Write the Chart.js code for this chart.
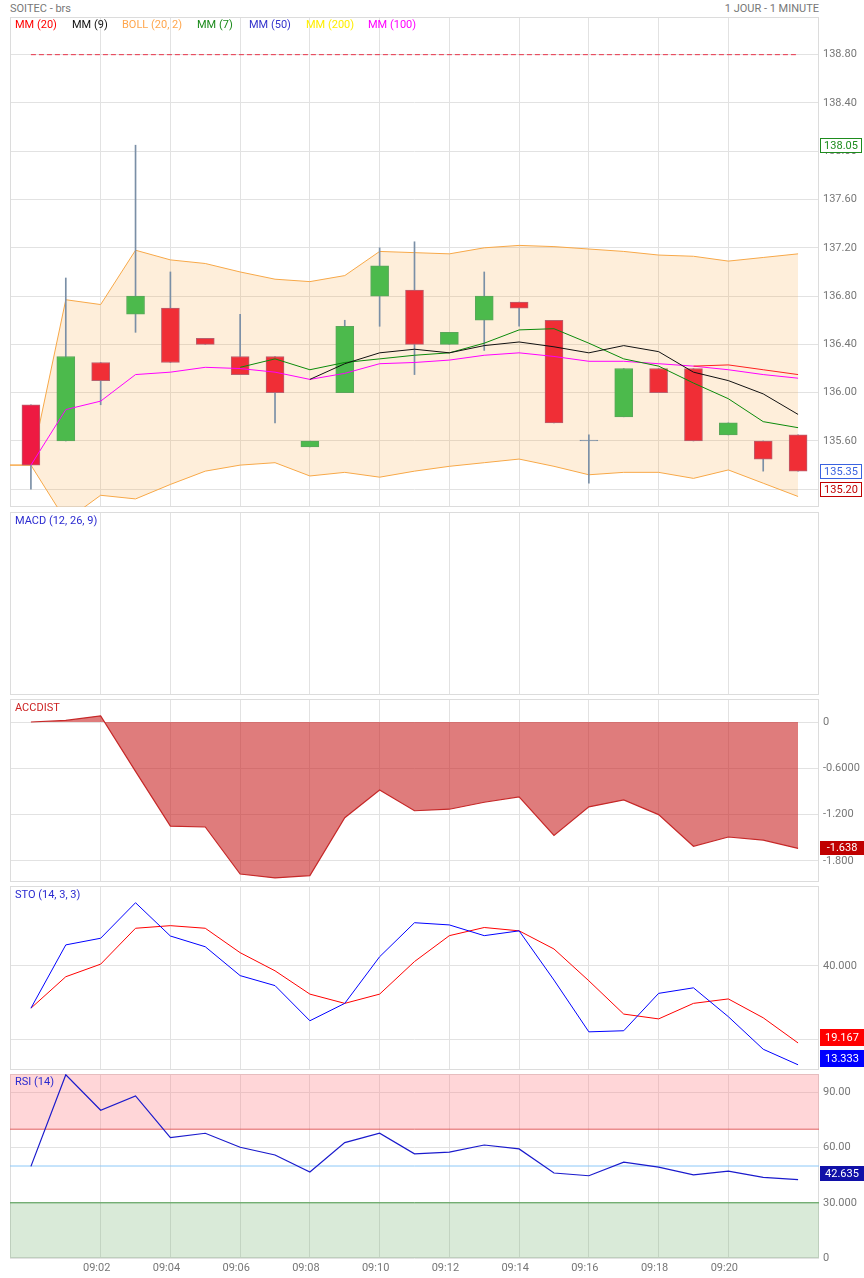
<!DOCTYPE html>
<html>
<head>
<meta charset="utf-8">
<script src="https://cdn.jsdelivr.net/npm/chart.js@4.4.1/dist/chart.umd.min.js"></script>
<style>
body{margin:0;background:#fff;width:864px;height:1278px;position:relative;overflow:hidden;font-family:Roboto,sans-serif}
canvas{position:absolute;left:0}
.t{position:absolute;font-size:11px;line-height:14px;white-space:nowrap}
</style>
</head>
<body>
<div class="t" style="left:10px;top:2px;color:#777">SOITEC - brs</div>
<div class="t" style="right:45px;top:2px;color:#777">1 JOUR - 1 MINUTE</div>

<canvas id="priceChart" width="864" height="518" style="top:3px"></canvas>
<canvas id="macdChart" width="864" height="211" style="top:498px"></canvas>
<canvas id="accChart" width="864" height="211" style="top:685px"></canvas>
<canvas id="stoChart" width="864" height="212" style="top:872px"></canvas>
<canvas id="rsiChart" width="864" height="218" style="top:1060px"></canvas>

<div class="t" style="left:15px;top:18px;color:#ff0000">MM (20)</div>
<div class="t" style="left:72px;top:18px;color:#111">MM (9)</div>
<div class="t" style="left:122px;top:18px;color:#ffa64d">BOLL (20, 2)</div>
<div class="t" style="left:197px;top:18px;color:#1a8a1a">MM (7)</div>
<div class="t" style="left:249px;top:18px;color:#3333cc">MM (50)</div>
<div class="t" style="left:306px;top:18px;color:#ffee00">MM (200)</div>
<div class="t" style="left:368px;top:18px;color:#ff00ff">MM (100)</div>

<div class="t" style="left:15px;top:514px;color:#2a2ad0">MACD (12, 26, 9)</div>
<div class="t" style="left:15px;top:701px;color:#cc2222">ACCDIST</div>
<div class="t" style="left:15px;top:888px;color:#2a2ad0">STO (14, 3, 3)</div>
<div class="t" style="left:15px;top:1075px;color:#2a2ad0">RSI (14)</div>

<script>
Chart.defaults.font.family="Roboto"
Chart.defaults.animation=false

// data
let times=["09:00","09:01","09:02","09:03","09:04","09:05","09:06","09:07","09:08","09:09","09:10","09:11","09:12","09:13","09:14","09:15","09:16","09:17","09:18","09:19","09:20","09:21","09:22"]
let xTicks=[2,4,6,8,10,12,14,16,18,20]

let openP =[135.90,135.60,136.25,136.65,136.70,136.45,136.30,136.30,135.55,136.00,136.80,136.85,136.40,136.60,136.75,136.60,135.60,135.80,136.20,136.20,135.65,135.60,135.65]
let closeP=[135.40,136.30,136.10,136.80,136.25,136.40,136.15,136.00,135.60,136.55,137.05,136.40,136.50,136.80,136.70,135.75,135.60,136.20,136.00,135.60,135.75,135.45,135.35]
let highP =[135.90,136.95,136.25,138.05,137.00,136.45,136.65,136.30,135.60,136.60,137.20,137.25,136.50,137.00,136.75,136.60,135.65,136.20,136.20,136.20,135.75,135.60,135.65]
let lowP  =[135.20,135.60,135.90,136.50,136.25,136.40,136.15,135.75,135.55,136.00,136.55,136.15,136.40,136.35,136.55,135.75,135.25,135.80,136.00,135.60,135.65,135.35,135.35]

let mm20 =[null,null,null,null,null,null,null,null,null,null,null,null,null,null,null,null,null,null,null,136.22,136.23,136.19,136.15]
let mm9  =[null,null,null,null,null,null,null,null,136.11,136.24,136.33,136.36,136.33,136.39,136.42,136.38,136.33,136.39,136.34,136.17,136.10,135.99,135.82]
let mm7  =[null,null,null,null,null,null,136.21,136.28,136.19,136.25,136.28,136.31,136.33,136.41,136.52,136.53,136.41,136.28,136.22,136.08,135.95,135.76,135.71]
let mm100=[135.40,135.86,135.93,136.15,136.17,136.21,136.20,136.17,136.11,136.16,136.24,136.25,136.27,136.31,136.33,136.30,136.26,136.26,136.24,136.22,136.19,136.15,136.12]

// bollinger starts one minute before the first candle
let bollUpper=[135.40,135.40,136.77,136.73,137.18,137.10,137.07,137.00,136.94,136.92,136.97,137.17,137.16,137.15,137.20,137.22,137.21,137.19,137.17,137.14,137.13,137.09,137.12,137.15]
let bollLower=[135.40,135.40,134.94,135.15,135.12,135.24,135.35,135.40,135.42,135.31,135.34,135.30,135.35,135.39,135.42,135.45,135.39,135.32,135.34,135.34,135.29,135.36,135.25,135.14]

let alertLevel=138.80
let priceTicks=[135.2,135.6,136.0,136.4,136.8,137.2,137.6,138.0,138.4,138.8]

let accdist=[0,0.02,0.08,-0.64,-1.35,-1.36,-1.97,-2.02,-1.99,-1.24,-0.88,-1.15,-1.13,-1.04,-0.97,-1.47,-1.10,-1.01,-1.20,-1.61,-1.49,-1.53,-1.638]
let accTicks=[0,-0.6,-1.2,-1.8]
let accLabels=["0","-0.6000","-1.200","-1.800"]

let stoK=[28.6,45.7,47.5,57.1,48.1,45.2,37.4,34.7,25.2,29.9,42.5,51.7,51.1,48.2,49.5,36.2,22.2,22.5,32.6,34.1,26.3,17.5,13.3]
let stoD=[28.6,37.1,40.5,50.2,50.9,50.2,43.6,38.7,32.4,29.9,32.4,41.2,48.2,50.4,49.5,44.6,36.0,27.0,25.7,29.9,31.1,26.0,19.2]
let stoTicks=[20,40]
let stoLabels=["20.000","40.000"]

let rsi=[49.8,99.6,80.3,88.1,65.4,67.8,60.2,56.0,46.7,62.7,67.8,56.6,57.5,61.4,59.3,46.2,44.7,52.1,49.4,45.2,47.2,43.8,42.6]
let rsiTicks=[0,30,60,90]
let rsiLabels=["0","30.000","60.00","90.00"]
let rsiHigh=70, rsiMid=50, rsiLow=30


let xMin=-0.6, xMax=22.6
let gridCol="#e2e2e2"

function pts(arr,start){
return arr.map((v,i)=>({x:i+(start||0),y:v}))
}
function flat(v){
return [{x:xMin,y:v},{x:xMax,y:v}]
}

function xScale(showLabels){
let s={
type:"linear",min:xMin,max:xMax,offset:false,
afterBuildTicks:sc=>{sc.ticks=xTicks.map(v=>({value:v}))},
grid:{color:gridCol,drawTicks:false,offset:false},
border:{display:false},
ticks:{display:showLabels,color:"#777",font:{size:11},padding:4,labelOffset:-4,maxRotation:0,autoSkip:false,
callback:v=>times[v]}
}
if(showLabels) s.afterFit=sc=>{sc.height=20}
return s
}

function yScale(min,max,ticks,labels){
return {
position:"right",min:min,max:max,beginAtZero:false,
afterBuildTicks:sc=>{sc.ticks=ticks.map(v=>({value:v}))},
afterFit:sc=>{sc.width=45},
grid:{color:gridCol,drawTicks:false},
border:{display:false},
ticks:{color:"#777",font:{size:11},padding:4,callback:(v,i)=>labels[i]}
}
}

let panelFrame={
id:"panelFrame",
beforeDatasetsDraw(chart){
let a=chart.chartArea, ctx=chart.ctx
ctx.save()
ctx.strokeStyle="#dcdcdc"
ctx.lineWidth=1
ctx.strokeRect(Math.round(a.left)+0.5,Math.round(a.top)+0.5,Math.round(a.right-a.left)-1,Math.round(a.bottom-a.top)-1)
ctx.restore()
}
}

let valueBoxes={
id:"valueBoxes",
afterDraw(chart,args,opts){
let boxes=opts.boxes||[]
if(!boxes.length) return
let ctx=chart.ctx, a=chart.chartArea, y=chart.scales.y
let h=opts.h||15, gap=opts.gap||3
let items=boxes.map(b=>{
let c=y.getPixelForValue(b.value)+(b.dy||0)
c=Math.min(c,a.bottom-h/2-(opts.bottomPad||0))
c=Math.max(c,a.top+h/2)
return Object.assign({},b,{c:c})
})
items.sort((p,q)=>q.c-p.c)
for(let i=1;i<items.length;i++){
if(items[i-1].c-items[i].c<h+gap) items[i].c=items[i-1].c-h-gap
}
ctx.save()
ctx.font="11px Roboto"
ctx.textAlign="center"
ctx.textBaseline="middle"
items.forEach(b=>{
let top=Math.round(b.c-h/2)
if(b.bg){
ctx.fillStyle=b.bg
ctx.fillRect(820,top,44,h)
ctx.fillStyle="#fff"
ctx.fillText(b.text,842,top+h/2+0.5)
}else{
ctx.fillStyle="#fff"
ctx.fillRect(820,top,42,h)
ctx.strokeStyle=b.border
ctx.lineWidth=1
ctx.strokeRect(820.5,top+0.5,41,h-1)
ctx.fillStyle=b.border
ctx.fillText(b.text,841,top+h/2+0.5)
}
})
ctx.restore()
}
}

function lineDs(data,color,extra){
return Object.assign({type:"line",data:data,borderColor:color,borderWidth:1,pointRadius:0,tension:0,fill:false,order:0},extra||{})
}


/* price panel */

let bodyColors=openP.map((o,i)=>closeP[i]>o?"#4cba4c":(closeP[i]<o?(i===0?"#ee1a42":"#f02e36"):"#7a8fa6"))
let bodyBorders=openP.map((o,i)=>closeP[i]>o?"#5aa65a":(closeP[i]<o?"#b8606e":"#7a8fa6"))

new Chart(document.getElementById("priceChart"),{
type:"bar",
data:{
datasets:[
lineDs(pts(mm20),"#ff2020"),
lineDs(pts(mm9),"#111111"),
lineDs(pts(mm7),"#0a8a0a"),
lineDs(pts(mm100),"#ff00ff"),
lineDs([{x:0,y:alertLevel},{x:times.length-1,y:alertLevel}],"#e8344a",{borderDash:[5,3]}),
{
type:"bar",
data:times.map((t,i)=>({x:i,y:[openP[i],closeP[i]]})),
backgroundColor:bodyColors,
borderColor:bodyBorders,
borderWidth:1,
borderSkipped:false,
barThickness:18,
minBarLength:1,
grouped:false,
order:1
},
{
type:"bar",
data:times.map((t,i)=>({x:i,y:[lowP[i],highP[i]]})),
backgroundColor:"#7a8fa6",
borderWidth:0,
barThickness:1,
grouped:false,
order:2
},
lineDs(pts(bollUpper,-1),"#f7a848",{fill:"+1",backgroundColor:"rgba(250,170,70,0.2)",order:3}),
lineDs(pts(bollLower,-1),"#f7a848",{order:3})
]
},
options:{
responsive:false,
layout:{padding:{left:10,right:0,top:14,bottom:14}},
plugins:{
legend:{display:false},
tooltip:{enabled:false},
valueBoxes:{h:15,gap:3,boxes:[
{value:138.05,text:"138.05",border:"#1e8c1e"},
{value:135.35,text:"135.35",border:"#3a62e0"},
{value:135.20,text:"135.20",border:"#c00000"}
]}
},
scales:{
x:xScale(false),
y:yScale(135.053,139.112,priceTicks,priceTicks.map(v=>v.toFixed(2)))
}
},
plugins:[panelFrame,valueBoxes]
})


/* macd panel (empty) */

new Chart(document.getElementById("macdChart"),{
type:"line",
data:{datasets:[]},
options:{
responsive:false,
layout:{padding:{left:10,right:0,top:14,bottom:14}},
plugins:{legend:{display:false},tooltip:{enabled:false}},
scales:{
x:xScale(false),
y:yScale(0,1,[],[])
}
},
plugins:[panelFrame]
})


/* accdist panel */

new Chart(document.getElementById("accChart"),{
type:"line",
data:{datasets:[
lineDs(pts(accdist),"#c62828",{fill:"origin",backgroundColor:"rgba(200,30,30,0.58)",borderWidth:1.2})
]},
options:{
responsive:false,
layout:{padding:{left:10,right:0,top:14,bottom:14}},
plugins:{
legend:{display:false},
tooltip:{enabled:false},
valueBoxes:{h:14,boxes:[{value:accdist[accdist.length-1],text:"-1.638",bg:"#c00000"}]}
},
scales:{
x:xScale(false),
y:yScale(-2.073,0.298,accTicks,accLabels)
}
},
plugins:[panelFrame,valueBoxes]
})


/* stochastic panel */

new Chart(document.getElementById("stoChart"),{
type:"line",
data:{datasets:[
lineDs(pts(stoK),"#0000ff",{order:0}),
lineDs(pts(stoD),"#ff0000",{order:1})
]},
options:{
responsive:false,
layout:{padding:{left:10,right:0,top:14,bottom:14}},
plugins:{
legend:{display:false},
tooltip:{enabled:false},
valueBoxes:{h:17,gap:4,bottomPad:3.5,boxes:[
{value:19.167,text:"19.167",bg:"#ff0000"},
{value:13.333,text:"13.333",bg:"#0000ff"}
]}
},
scales:{
x:xScale(false),
y:yScale(11.89,61.62,stoTicks,stoLabels)
}
},
plugins:[panelFrame,valueBoxes]
})


/* rsi panel */

new Chart(document.getElementById("rsiChart"),{
type:"line",
data:{datasets:[
lineDs(pts(rsi),"#1a1acc",{borderWidth:1.2,order:0}),
lineDs(flat(rsiHigh),"#e06060",{fill:{value:100},backgroundColor:"rgba(255,120,125,0.3)",order:2}),
lineDs(flat(rsiMid),"#8cc8f8",{order:1}),
lineDs(flat(rsiLow),"#4a9a4a",{fill:{value:0},backgroundColor:"rgba(100,170,95,0.245)",order:2})
]},
options:{
responsive:false,
layout:{padding:{left:10,right:0,top:14,bottom:0}},
plugins:{
legend:{display:false},
tooltip:{enabled:false},
valueBoxes:{h:15,boxes:[{value:42.635,text:"42.635",bg:"#1010a8",dy:-6}]}
},
scales:{
x:xScale(true),
y:yScale(0,100,rsiTicks,rsiLabels)
}
},
plugins:[panelFrame,valueBoxes]
})
</script>
</body>
</html>
